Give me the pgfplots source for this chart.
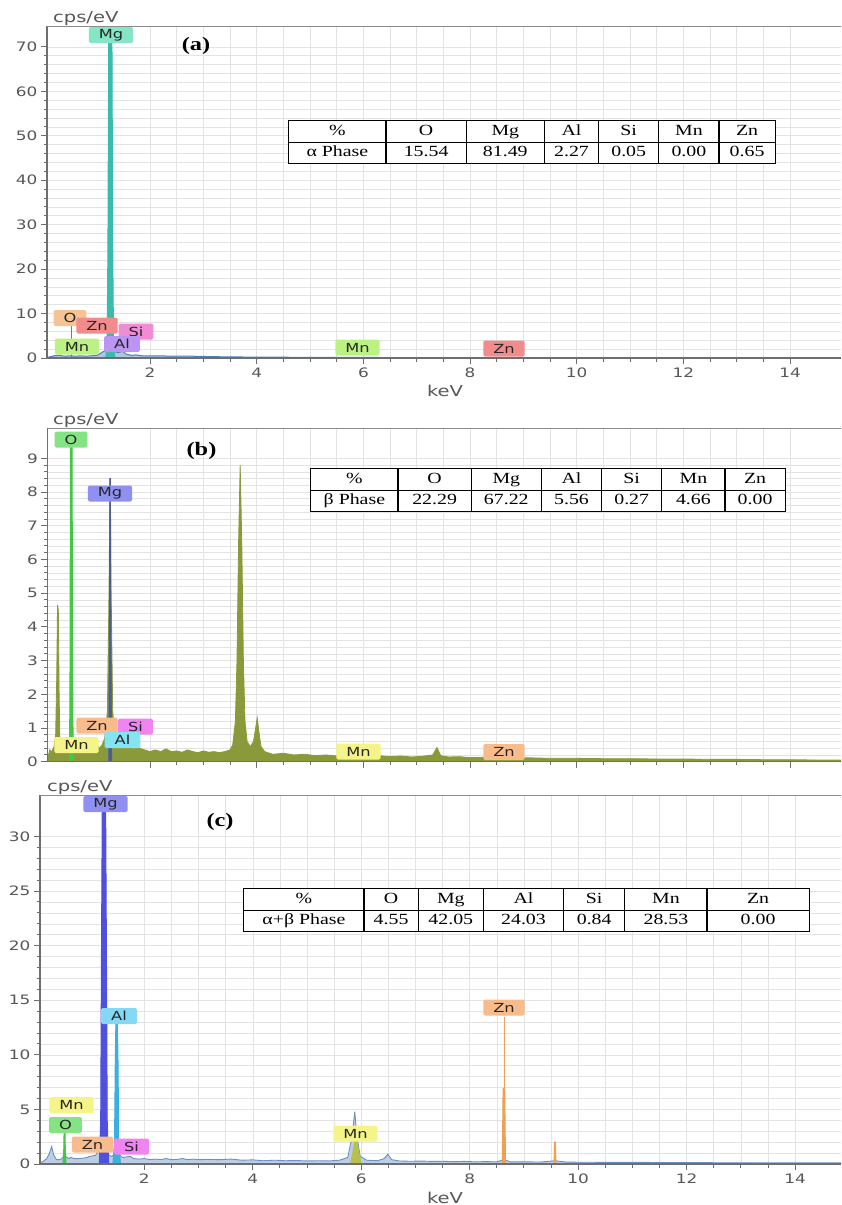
\documentclass[border=0pt]{standalone}
\usepackage{pgfplots}
\pgfplotsset{compat=1.18}
\usepackage{array}
\usepackage{fontspec}
\setmainfont[FakeStretch=1.28]{Liberation Serif}
\newfontfamily\dv[FakeStretch=1.3]{DejaVu Sans}

\definecolor{axgray}{HTML}{6E6E6E}
\definecolor{gridgray}{HTML}{E3E3E3}
\definecolor{labgray}{HTML}{575757}
\definecolor{specA}{HTML}{4F7FB8}
\definecolor{mgA}{HTML}{3ABCAC}
\definecolor{oliveB}{HTML}{8A9A3A}
\definecolor{oGreen}{HTML}{44C844}
\definecolor{mgB}{HTML}{4C5C94}
\definecolor{specC}{HTML}{6A90C4}
\definecolor{mgC}{HTML}{5050E0}
\definecolor{alC}{HTML}{3CB0DC}
\definecolor{mnC}{HTML}{B8C048}
\definecolor{znC}{HTML}{F0A050}
% label boxes
\definecolor{bMgA}{HTML}{84E6C6}
\definecolor{bOA}{HTML}{F8C394}
\definecolor{bZnA}{HTML}{F28C8C}
\definecolor{bSiA}{HTML}{F08CD4}
\definecolor{bMnA}{HTML}{BCF284}
\definecolor{bAlA}{HTML}{BC94F2}
\definecolor{bO}{HTML}{84E484}
\definecolor{bMg}{HTML}{9090F2}
\definecolor{bZn}{HTML}{F8BC8C}
\definecolor{bSi}{HTML}{F084F0}
\definecolor{bMn}{HTML}{F4F488}
\definecolor{bAl}{HTML}{84E4F2}
\definecolor{bAlC}{HTML}{84D8F4}

\setlength\tabcolsep{0pt}
\setlength\arrayrulewidth{1.2pt}
\renewcommand\arraystretch{1.12}
\newcommand\tabfont{\fontsize{15.5}{18}\selectfont}

\tikzset{el/.style={fill=#1, rounded corners=1.5pt, inner xsep=10pt, inner ysep=0pt,
    minimum height=16pt, font=\dv\fontsize{12.5}{13}\selectfont, text=black!85},
  axlab/.style={font=\dv\fontsize{15}{15}\selectfont, text=labgray},
  panel/.style={font=\bfseries\fontsize{19}{19}\selectfont}}

\pgfplotsset{
  eds/.style={
    scale only axis,
    axis line style={draw=none},
    tick pos=left,
    tick align=outside,
    xtick={2,4,...,14},
    minor x tick num=3,
    minor y tick num=4,
    major tick length=6pt,
    minor tick length=3.5pt,
    tick style={draw=axgray, line width=1pt},
    grid=both,
    major grid style={draw=gridgray, line width=0.6pt},
    minor grid style={draw=gridgray, line width=0.6pt},
    tick label style={font=\dv\fontsize{13}{14}\selectfont, text=labgray},
    /pgf/number format/assume math mode=true,
    clip mode=individual,
  },
}

\begin{document}
\begin{tikzpicture}
\useasboundingbox (0,0) rectangle (841pt,-1205pt);

% ---------------- (a) ----------------
\begin{axis}[eds, at={(47pt,-358pt)}, anchor=south west,
  width=794pt, height=332pt,
  xmin=0.0675, xmax=14.956, ymin=0, ymax=74.7,
  ytick={0,10,...,70}]
\addplot[draw=specA, line width=1pt, fill=specA!45] coordinates {
(0.1,0.2)(0.2,0.5)(0.3,0.6)(0.4,0.4)(0.5,0.5)(0.6,0.4)(0.7,0.5)(0.8,0.4)(0.9,0.5)
(1.0,0.6)(1.05,0.9)(1.1,1.3)(1.15,1.6)(1.2,1.8)(1.3,1.6)(1.4,1.2)(1.49,1.5)(1.55,0.9)
(1.65,0.6)(1.74,0.7)(1.85,0.5)(2.0,0.45)(2.2,0.5)(2.4,0.4)(2.6,0.45)(2.8,0.4)(3.0,0.35)
(3.2,0.3)(3.5,0.25)(4,0.2)(5,0.15)(6,0.12)(7,0.1)(8,0.08)(10,0.06)(12,0.05)(15,0.04)} \closedcycle;
\addplot[draw=mgA, line width=1pt, fill=mgA] coordinates {
(1.17,0)(1.195,4)(1.21,25)(1.225,73)(1.285,73)(1.30,25)(1.315,4)(1.34,0)} \closedcycle;
\addplot[draw=bOA!60!black, line width=0.6pt] coordinates {(0.525,0)(0.525,7.3)};
\draw[axgray, line width=1.2pt] (rel axis cs:0,1) -- (rel axis cs:0,0) -- (rel axis cs:1,0);
\draw[axgray!80, line width=1pt] (rel axis cs:0,1) -- (rel axis cs:1,1);
\end{axis}

% ---------------- (b) ----------------
\begin{axis}[eds, at={(47.5pt,-761.7pt)}, anchor=south west,
  width=793.5pt, height=333.7pt,
  xmin=0.077, xmax=14.956, ymin=0, ymax=9.9,
  ytick={0,1,...,9}, xticklabels={}]
\addplot[draw=oliveB, line width=0.8pt, fill=oliveB] coordinates {
(0.08,0.1)(0.12,0.35)(0.16,0.3)(0.2,0.45)(0.23,0.8)(0.25,2.5)(0.265,4.65)(0.28,4.5)(0.295,2)
(0.31,0.6)(0.35,0.35)(0.4,0.3)(0.45,0.4)(0.5,0.6)(0.55,0.5)(0.6,0.35)(0.65,0.45)(0.7,0.3)
(0.75,0.35)(0.8,0.4)(0.85,0.3)(0.9,0.45)(0.95,0.35)(1.0,0.5)(1.05,0.4)(1.1,0.5)(1.15,0.7)
(1.2,1.5)(1.23,5)(1.25,8.4)(1.27,5)(1.3,1.5)(1.35,0.6)(1.4,0.45)(1.45,0.5)(1.49,0.65)
(1.55,0.45)(1.6,0.4)(1.65,0.45)(1.7,0.35)(1.74,0.5)(1.8,0.4)(1.9,0.35)(2.0,0.3)(2.1,0.35)
(2.2,0.3)(2.3,0.38)(2.4,0.3)(2.5,0.32)(2.6,0.28)(2.7,0.35)(2.8,0.3)(2.9,0.27)(3.0,0.32)
(3.1,0.28)(3.2,0.3)(3.3,0.27)(3.4,0.3)(3.5,0.35)(3.55,0.5)(3.6,1.2)(3.63,3)(3.66,6.5)
(3.69,8.8)(3.72,6.5)(3.75,3)(3.78,1.2)(3.82,0.6)(3.88,0.45)(3.94,0.6)(3.98,1.0)(4.01,1.3)
(4.04,0.9)(4.08,0.45)(4.15,0.3)(4.3,0.22)(4.5,0.25)(4.7,0.2)(4.9,0.22)(5.1,0.18)(5.3,0.2)
(5.5,0.17)(5.7,0.2)(5.9,0.18)(6.1,0.16)(6.3,0.18)(6.5,0.15)(6.7,0.17)(6.9,0.14)(7.1,0.16)
(7.3,0.2)(7.38,0.42)(7.45,0.18)(7.6,0.14)(7.8,0.15)(8.0,0.12)(8.3,0.13)(8.6,0.11)(9.0,0.12)
(9.5,0.1)(10,0.1)(10.5,0.09)(11,0.09)(11.5,0.08)(12,0.08)(12.5,0.07)(13,0.07)(13.5,0.06)
(14,0.06)(14.5,0.05)(15,0.05)} \closedcycle;
\addplot[draw=oGreen, line width=1pt, fill=oGreen] coordinates {
(0.49,0)(0.50,3)(0.508,9.7)(0.538,9.7)(0.546,3)(0.56,0)} \closedcycle;
\addplot[draw=mgB, line width=0.8pt, fill=mgB] coordinates {
(1.225,0)(1.238,4)(1.246,8.4)(1.258,8.4)(1.266,4)(1.28,0)} \closedcycle;
\draw[axgray, line width=1.2pt] (rel axis cs:0,1) -- (rel axis cs:0,0) -- (rel axis cs:1,0);
\draw[axgray!80, line width=1pt] (rel axis cs:0,1) -- (rel axis cs:1,1);
\end{axis}

% ---------------- (c) ----------------
\begin{axis}[eds, at={(40pt,-1164pt)}, anchor=south west,
  width=801pt, height=369pt,
  xmin=0.0756, xmax=14.846, ymin=0, ymax=33.8,
  ytick={0,5,...,30}]
\addplot[draw=specC, line width=0.9pt, fill=specC!45] coordinates {
(0.08,0.1)(0.15,0.3)(0.2,0.5)(0.25,1.0)(0.29,1.6)(0.33,0.8)(0.38,0.4)(0.45,0.4)(0.5,0.6)
(0.525,1.2)(0.55,0.7)(0.6,0.5)(0.65,0.6)(0.7,0.5)(0.8,0.5)(0.9,0.55)(1.0,0.7)(1.1,0.8)
(1.15,1.2)(1.2,1.5)(1.3,1.4)(1.35,0.8)(1.4,0.7)(1.45,0.9)(1.55,0.8)(1.6,0.6)(1.74,0.7)
(1.8,0.5)(1.9,0.45)(2.0,0.5)(2.1,0.4)(2.2,0.45)(2.3,0.4)(2.4,0.5)(2.5,0.4)(2.6,0.42)(2.7,0.5)
(2.8,0.4)(2.9,0.45)(3.0,0.4)(3.2,0.42)(3.4,0.4)(3.6,0.45)(3.8,0.35)(4.0,0.38)(4.2,0.3)
(4.4,0.35)(4.6,0.3)(4.8,0.32)(5.0,0.28)(5.2,0.3)(5.4,0.28)(5.6,0.35)(5.75,0.6)(5.83,2.5)
(5.88,4.8)(5.92,2.5)(5.98,0.7)(6.1,0.35)(6.3,0.3)(6.42,0.5)(6.49,0.9)(6.56,0.4)(6.7,0.28)
(6.9,0.25)(7.1,0.27)(7.3,0.24)(7.5,0.25)(7.7,0.22)(7.9,0.24)(8.1,0.2)(8.3,0.22)(8.5,0.2)
(8.63,0.4)(8.75,0.2)(9.0,0.2)(9.3,0.18)(9.57,0.3)(9.8,0.17)(10.2,0.16)(10.6,0.15)(11,0.15)
(11.5,0.14)(12,0.13)(12.5,0.12)(13,0.12)(13.5,0.11)(14,0.1)(15,0.1)} \closedcycle;
\addplot[draw=mnC, line width=0.8pt, fill=mnC] coordinates {
(5.80,0)(5.85,1.2)(5.88,2.2)(5.92,2.2)(5.95,1.2)(6.0,0)} \closedcycle;
\addplot[draw=mgC, line width=1pt, fill=mgC] coordinates {
(1.17,0)(1.195,4)(1.21,20)(1.225,33.5)(1.285,33.5)(1.30,20)(1.315,4)(1.34,0)} \closedcycle;
\addplot[draw=alC, line width=1pt, fill=alC] coordinates {
(1.42,0)(1.45,2)(1.465,10)(1.475,13)(1.50,13)(1.513,10)(1.528,2)(1.56,0)} \closedcycle;
\addplot[draw=oGreen, line width=1pt, fill=oGreen] coordinates {
(0.50,0)(0.515,1.5)(0.52,3.2)(0.535,3.2)(0.542,1.5)(0.555,0)} \closedcycle;
\addplot[draw=znC, line width=1pt, fill=znC] coordinates {
(8.60,0)(8.615,6.9)(8.645,6.9)(8.66,0)} \closedcycle;
\addplot[draw=znC, line width=0.8pt] coordinates {(8.63,6.9)(8.63,13.5)};
\addplot[draw=znC, line width=1pt, fill=znC] coordinates {
(9.555,0)(9.565,2)(9.58,2)(9.59,0)} \closedcycle;
\addplot[draw=mnC, line width=0.6pt] coordinates {(5.899,0)(5.899,2.0)};
\draw[axgray, line width=1.2pt] (rel axis cs:0,1) -- (rel axis cs:0,0) -- (rel axis cs:1,0);
\draw[axgray!80, line width=1pt] (rel axis cs:0,1) -- (rel axis cs:1,1);
\end{axis}

% ---------------- axis titles ----------------
\node[axlab, anchor=south west, inner sep=0pt] at (53pt,-26pt) {cps/eV};
\node[axlab] at (445pt,-391pt) {keV};
\node[axlab, anchor=south west, inner sep=0pt] at (53pt,-428pt) {cps/eV};
\node[axlab, anchor=south west, inner sep=0pt] at (47pt,-795pt) {cps/eV};
\node[axlab] at (445pt,-1198pt) {keV};

\node[panel] at (196pt,-46pt) {(a)};
\node[panel] at (201.5pt,-451pt) {(b)};
\node[panel] at (220pt,-821.5pt) {(c)};

% ---------------- element labels (a) ----------------
\node[el=bMgA] at (111pt,-35pt) {Mg};
\node[el=bOA] at (70pt,-318pt) {O};
\node[el=bZnA] at (97pt,-325.5pt) {Zn};
\node[el=bSiA] at (136pt,-331.5pt) {Si};
\node[el=bMnA] at (77pt,-346.5pt) {Mn};
\node[el=bAlA] at (122pt,-344pt) {Al};
\node[el=bMnA] at (357.5pt,-347.5pt) {Mn};
\node[el=bZnA] at (504pt,-348.5pt) {Zn};

% ---------------- element labels (b) ----------------
\node[el=bO] at (71pt,-439.5pt) {O};
\node[el=bMg] at (110pt,-493.5pt) {Mg};
\node[el=bZn] at (97pt,-725.5pt) {Zn};
\node[el=bSi] at (135.5pt,-726.5pt) {Si};
\node[el=bMn] at (76.5pt,-745pt) {Mn};
\node[el=bAl] at (122.5pt,-740pt) {Al};
\node[el=bMn] at (358.5pt,-751.5pt) {Mn};
\node[el=bZn] at (504pt,-752pt) {Zn};

% ---------------- element labels (c) ----------------
\node[el=bMg] at (105.5pt,-804pt) {Mg};
\node[el=bAlC] at (119pt,-1016pt) {Al};
\node[el=bZn] at (504pt,-1007.5pt) {Zn};
\node[el=bMn] at (71.5pt,-1105pt) {Mn};
\node[el=bO] at (65.5pt,-1125pt) {O};
\node[el=bZn] at (92.5pt,-1144.5pt) {Zn};
\node[el=bSi] at (131.5pt,-1146.5pt) {Si};
\node[el=bMn] at (355.5pt,-1133.5pt) {Mn};

% ---------------- composition tables ----------------
\node[anchor=north west, fill=white, inner sep=0pt, font=\tabfont] at (288pt,-120pt) {%
\begin{tabular}{|w{c}{96pt}|w{c}{79pt}|w{c}{77pt}|w{c}{53pt}|w{c}{59pt}|w{c}{59pt}|w{c}{55pt}|}
\hline
\% & O & Mg & Al & Si & Mn & Zn\\ \hline
α Phase & 15.54 & 81.49 & 2.27 & 0.05 & 0.00 & 0.65\\ \hline
\end{tabular}};

\node[anchor=north west, fill=white, inner sep=0pt, font=\tabfont] at (310pt,-468pt) {%
\begin{tabular}{|w{c}{86pt}|w{c}{72pt}|w{c}{69pt}|w{c}{59pt}|w{c}{59pt}|w{c}{62pt}|w{c}{59pt}|}
\hline
\% & O & Mg & Al & Si & Mn & Zn\\ \hline
β Phase & 22.29 & 67.22 & 5.56 & 0.27 & 4.66 & 0.00\\ \hline
\end{tabular}};

\node[anchor=north west, fill=white, inner sep=0pt, font=\tabfont] at (243pt,-888pt) {%
\begin{tabular}{|w{c}{119pt}|w{c}{53pt}|w{c}{64pt}|w{c}{79pt}|w{c}{60pt}|w{c}{81pt}|w{c}{101pt}|}
\hline
\% & O & Mg & Al & Si & Mn & Zn\\ \hline
α+β Phase & 4.55 & 42.05 & 24.03 & 0.84 & 28.53 & 0.00\\ \hline
\end{tabular}};
\end{tikzpicture}
\end{document}
